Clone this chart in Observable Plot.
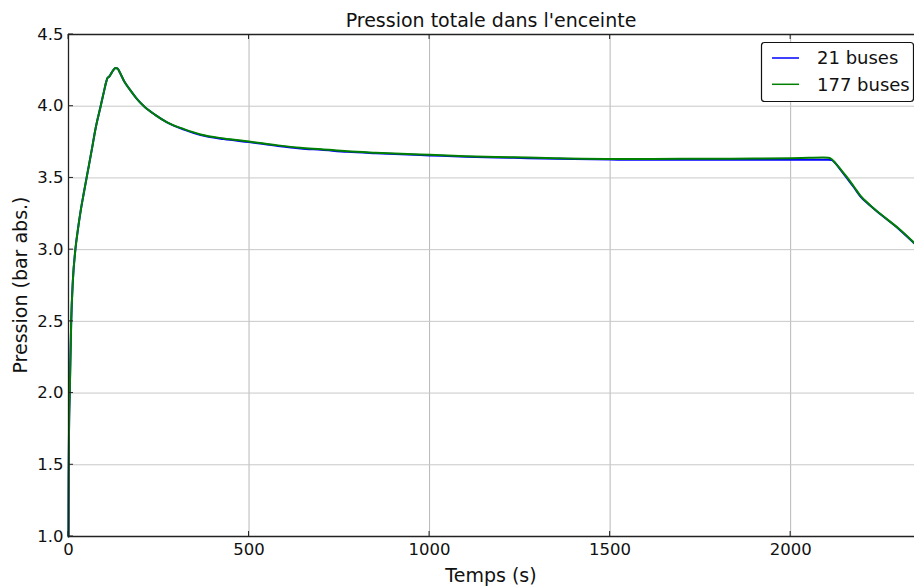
<!DOCTYPE html>
<html>
<head>
<meta charset="utf-8">
<script src="https://cdn.jsdelivr.net/npm/d3@7"></script>
<script src="https://cdn.jsdelivr.net/npm/@observablehq/plot@0.6"></script>
<style>
  html, body { margin: 0; padding: 0; background: #fff; }
  #chart { width: 914px; height: 587px; }
</style>
</head>
<body>
<div id="chart"></div>
<script>
const title = "Pression totale dans l'enceinte";
const xLabel = "Temps (s)";
const yLabel = "Pression (bar abs.)";
const seriesNames = ["21 buses", "177 buses"];
const seriesColors = ["#0000ff", "#008000"];

const xTicks = [0, 500, 1000, 1500, 2000];
const yTicks = [1.0, 1.5, 2.0, 2.5, 3.0, 3.5, 4.0, 4.5];
const xDomain = [0, 2343];
const yDomain = [1.0, 4.5];

const time = [0, 0.5, 1.5, 3.5, 7.5, 12, 19, 26, 33, 42, 53, 64, 75, 89, 98, 105, 108, 113, 120, 126, 131, 136, 144, 155, 172, 190, 209, 240, 273, 320, 366, 430, 500, 580, 642, 700, 772, 850, 1000, 1100, 1233, 1350, 1500, 1600, 1700, 1800, 1900, 2000, 2050, 2090, 2105, 2114, 2125, 2140, 2156, 2175, 2193, 2220, 2248, 2300, 2343];

const p21 = [1.0, 1.4, 1.75, 2.0, 2.5, 2.78, 3.0, 3.14, 3.26, 3.39, 3.54, 3.69, 3.845, 4.0, 4.1, 4.175, 4.197, 4.207, 4.236, 4.258, 4.266, 4.262, 4.226, 4.17, 4.109, 4.05, 4.0, 3.94, 3.888, 3.837, 3.799, 3.771, 3.75, 3.723, 3.706, 3.696, 3.682, 3.672, 3.657, 3.648, 3.640, 3.633, 3.628, 3.626, 3.626, 3.626, 3.626, 3.626, 3.627, 3.627, 3.627, 3.624, 3.60, 3.55, 3.498, 3.435, 3.372, 3.307, 3.248, 3.143, 3.043];

const p177 = [1.0, 1.4, 1.75, 2.0, 2.5, 2.78, 3.0, 3.14, 3.26, 3.39, 3.54, 3.69, 3.845, 4.0, 4.1, 4.175, 4.197, 4.207, 4.236, 4.258, 4.266, 4.262, 4.226, 4.17, 4.109, 4.05, 4.0, 3.94, 3.888, 3.84, 3.803, 3.775, 3.754, 3.727, 3.71, 3.70, 3.686, 3.676, 3.661, 3.652, 3.644, 3.637, 3.632, 3.632, 3.633, 3.634, 3.635, 3.637, 3.64, 3.642, 3.64, 3.63, 3.60, 3.555, 3.505, 3.44, 3.377, 3.31, 3.25, 3.145, 3.045];

const series = [p21, p177];
const rows = [];
series.forEach((vals, si) => {
  time.forEach((t, i) => rows.push({t, p: vals[i], s: seriesNames[si]}));
});

const W = 914, H = 587;
const mL = 68, mR = 0, mT = 34, mB = 51;
const fontFam = "'DejaVu Sans', 'Liberation Sans', sans-serif";

const chart = Plot.plot({
  width: W,
  height: H,
  marginLeft: mL,
  marginRight: mR,
  marginTop: mT,
  marginBottom: mB,
  style: {fontFamily: fontFam, fontSize: "16.5px", color: "#000", background: "#fff", overflow: "visible"},
  x: {domain: xDomain},
  y: {domain: yDomain},
  color: {domain: seriesNames, range: seriesColors},
  marks: [
    Plot.gridX(xTicks.slice(1), {stroke: "#b8b8b8", strokeOpacity: 1, strokeWidth: 1}),
    Plot.gridY(yTicks.slice(1, -1), {stroke: "#c8c8c8", strokeOpacity: 1, strokeWidth: 1}),
    Plot.axisX(xTicks, {tickSize: 0, tickPadding: 7, label: null, fill: "#111", tickFormat: d => String(d)}),
    Plot.axisY(yTicks, {tickSize: 0, tickPadding: 5, label: null, fill: "#111", tickFormat: d3.format(".1f")}),
    Plot.line(rows.filter(d => d.s === seriesNames[0]), {x: "t", y: "p", stroke: "s", strokeWidth: 2, curve: "monotone-x"}),
    Plot.line(rows.filter(d => d.s === seriesNames[1]), {x: "t", y: "p", stroke: "s", strokeWidth: 2, curve: "monotone-x"}),
    Plot.ruleX([xDomain[0]], {stroke: "#222", strokeWidth: 1.3}),
    Plot.ruleY(yDomain, {stroke: "#222", strokeWidth: 1.3})
  ]
});

document.getElementById("chart").appendChild(chart);

const svg = d3.select(chart);
const xs = chart.scale("x"), ys = chart.scale("y");

// inward tick marks
const tickG = svg.append("g").attr("stroke", "#222").attr("stroke-width", 1);
xTicks.forEach(v => {
  const x = xs.apply(v);
  tickG.append("line").attr("x1", x).attr("x2", x).attr("y1", H - mB).attr("y2", H - mB - 5);
  tickG.append("line").attr("x1", x).attr("x2", x).attr("y1", mT).attr("y2", mT + 5);
});
yTicks.forEach(v => {
  const y = ys.apply(v);
  tickG.append("line").attr("x1", mL).attr("x2", mL + 5).attr("y1", y).attr("y2", y);
});

// title
svg.append("text")
  .attr("x", mL + (W - mL - mR) / 2)
  .attr("y", 27)
  .attr("text-anchor", "middle")
  .attr("font-size", 19)
  .attr("fill", "#111")
  .text(title);

// x label
svg.append("text")
  .attr("x", mL + (W - mL - mR) / 2)
  .attr("y", 582)
  .attr("text-anchor", "middle")
  .attr("font-size", 19)
  .attr("fill", "#111")
  .text(xLabel);

// y label
svg.append("text")
  .attr("transform", `translate(27, ${(mT + H - mB) / 2}) rotate(-90)`)
  .attr("text-anchor", "middle")
  .attr("font-size", 19)
  .attr("fill", "#111")
  .text(yLabel);

// legend
const lg = svg.append("g");
lg.append("rect")
  .attr("x", 761.5).attr("y", 42.5)
  .attr("width", 152).attr("height", 59)
  .attr("rx", 3)
  .attr("fill", "#fff").attr("stroke", "#111").attr("stroke-width", 1.2);
seriesNames.forEach((name, i) => {
  const y = 58 + i * 26.3;
  lg.append("line").attr("x1", 772).attr("x2", 799).attr("y1", y).attr("y2", y)
    .attr("stroke", seriesColors[i]).attr("stroke-width", 1.5);
  lg.append("text").attr("x", 817).attr("y", y).attr("dy", "0.35em")
    .attr("text-anchor", "start")
    .attr("font-size", 18).attr("fill", "#111").text(name);
});
</script>
</body>
</html>
